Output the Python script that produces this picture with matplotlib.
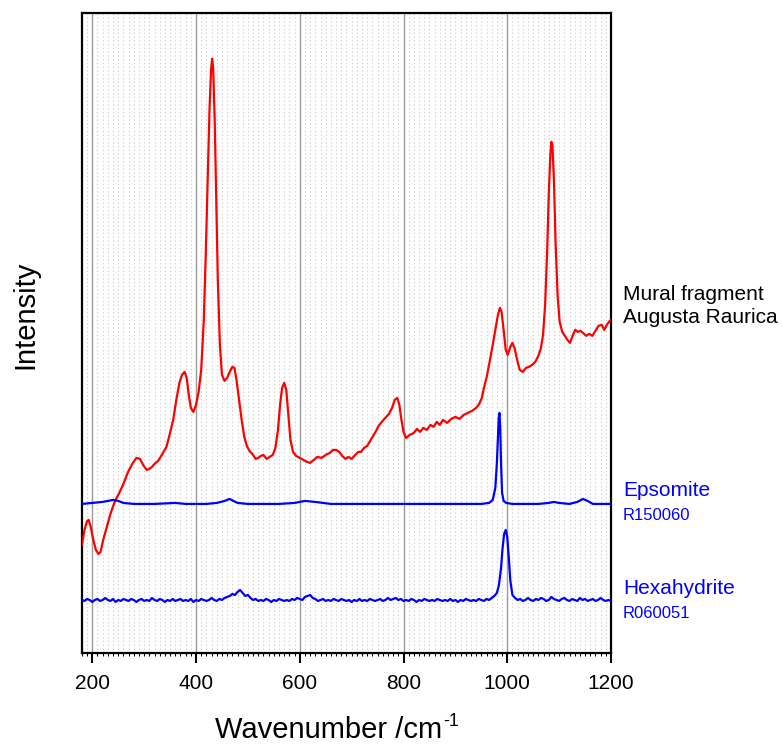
import matplotlib
matplotlib.use("Agg")
import matplotlib.pyplot as plt
import numpy as np

plt.rcParams['font.family'] = ['Liberation Sans', 'DejaVu Sans']

# Mural fragment, Augusta Raurica (Raman spectrum, arbitrary intensity units)
mural_wn = [180, 185, 190, 193, 197, 202, 207, 212, 216, 221, 228, 235, 241, 247, 253, 260,
            269, 277, 285, 292, 298, 305, 310, 315, 320, 327, 334, 343, 350, 356, 362, 368,
            373, 378, 382, 386, 390, 395, 400, 405, 410, 415, 419, 423, 426, 429, 431, 433,
            436, 439, 442, 446, 450, 455, 460, 465, 470, 474, 478, 483, 488, 493, 498, 503,
            510, 515, 520, 525, 530, 536, 542, 548, 553, 558, 562, 566, 570, 574, 578, 582,
            587, 593, 600, 607, 614, 620, 627, 634, 642, 650, 658, 664, 670, 676, 682, 688,
            694, 700, 707, 713, 718, 724, 730, 737, 745, 752, 758, 765, 772, 778, 783, 788,
            792, 796, 800, 805, 812, 820, 826, 832, 838, 845, 852, 858, 864, 870, 876, 884,
            892, 900, 908, 916, 924, 932, 940, 946, 951, 955, 960, 966, 972, 977, 982, 986,
            989, 993, 997, 1001, 1006, 1010, 1014, 1019, 1024, 1030, 1036, 1042, 1048, 1054,
            1060, 1065, 1069, 1073, 1077, 1080, 1083, 1085, 1087, 1090, 1093, 1097, 1101,
            1106, 1111, 1116, 1121, 1126, 1131, 1136, 1141, 1146, 1152, 1158, 1164, 1170,
            1176, 1182, 1187, 1192, 1196, 1200]
mural_int = [108, 123, 132, 133, 126, 113, 103, 99, 101, 113, 126, 139, 148, 155, 161, 169,
             181, 189, 195, 194, 188, 183, 184, 186, 189, 192, 198, 206, 220, 233, 253, 270,
             278, 281, 275, 258, 245, 241, 248, 261, 283, 333, 403, 483, 543, 583, 594, 585,
             533, 453, 373, 308, 278, 272, 275, 281, 286, 285, 273, 253, 233, 216, 207, 202,
             198, 194, 195, 197, 198, 194, 196, 198, 205, 223, 248, 265, 270, 263, 238, 213,
             201, 197, 195, 193, 191, 190, 193, 196, 195, 198, 200, 203, 203, 201, 197, 194,
             196, 194, 198, 201, 201, 205, 207, 213, 220, 227, 231, 235, 239, 245, 253, 255,
             248, 233, 221, 215, 218, 220, 224, 221, 225, 223, 228, 226, 231, 228, 233, 230,
             234, 236, 234, 238, 240, 242, 245, 249, 255, 265, 275, 291, 308, 323, 338, 345,
             341, 323, 303, 298, 306, 310, 305, 293, 283, 281, 285, 286, 288, 291,
             297, 305, 318, 348, 403, 458, 498, 511, 508, 473, 413, 358, 331,
             321, 317, 313, 310, 317, 323, 321, 322, 320, 317, 319, 317, 322,
             327, 328, 323, 328, 331, 333]

# Epsomite reference R150060
epsomite_wn = [180, 200, 220, 240, 250, 260, 280, 320, 360, 380, 420, 440, 455, 465, 472,
               480, 500, 560, 590, 610, 630, 660, 700, 800, 900, 950, 965, 972, 977, 980,
               982, 983.5, 985, 986.5, 988, 990, 993, 998, 1010, 1060, 1080, 1090, 1100,
               1120, 1135, 1146, 1155, 1165, 1200]
epsomite_int = [149, 150, 151, 153, 152, 150, 149, 149, 150, 149, 149, 150, 152, 154, 152,
                150, 149, 149, 150, 152, 151, 149, 149, 149, 149, 149, 150, 153, 165, 190,
                215, 235, 240, 225, 190, 160, 152, 150, 149, 149, 150, 151, 150,
                149, 151, 154, 152, 149, 149]

# Hexahydrite reference R060051: 5 cm-1 sampling, finer across the 997 band
hexa_wn = (list(range(180, 980, 5))
           + [980, 984, 988, 991, 994, 997, 1000, 1003, 1006, 1010]
           + list(range(1015, 1201, 5)))
hexa_int = [53, 52, 54, 53, 51, 53, 54, 52, 53, 55, 53, 52, 54, 51, 53, 52, 54, 53, 52, 54,
            53, 51, 53, 54, 52, 53, 52, 55, 53, 52, 54, 53, 51, 53, 52, 54, 52, 53, 54, 52,
            53, 52, 54, 51, 53, 52, 54, 53, 52, 53, 55, 53, 52, 54, 53, 55, 56, 57, 59, 58,
            61, 63, 60, 57, 58, 55, 53, 54, 52, 53, 52, 54, 53, 51, 53, 52, 54, 53, 52, 53,
            52, 54, 53, 55, 54, 53, 56, 57, 58, 55, 54, 52, 53, 54, 52, 53, 52, 54, 53, 52,
            54, 53, 52, 53, 51, 53, 52, 54, 52, 53, 52, 54, 53, 52, 53, 54, 52, 53, 55, 53,
            54, 55, 53, 54, 52, 53, 52, 54, 53, 51, 53, 52, 54, 53, 52, 53, 52, 54, 53, 52,
            53, 52, 54, 52, 53, 51, 53, 52, 54, 53, 52, 53, 52, 54, 53, 52, 54, 53, 55, 57,
            60, 68, 85, 105, 119, 123, 116, 95, 72, 58,
            55, 53, 54, 52, 53, 55, 53, 52, 54, 53, 55, 54, 52, 53, 56, 54, 53, 52, 54, 55,
            53, 52, 54, 53, 52, 55, 53, 54, 52, 53, 54, 52, 53, 55, 53, 52, 53, 52]

x_ticks = [200, 400, 600, 800, 1000, 1200]

fig = plt.figure(figsize=(7.83, 7.48), dpi=100)
ax = fig.add_axes([81.9 / 783, 1 - 653 / 748, (611 - 81.9) / 783, (653 - 12.7) / 748])

# fine dotted minor grid and solid major grid
for wn in range(180, 1201, 10):
    ax.axvline(wn, color='#cfcfcf', lw=0.8, ls=(0, (1.2, 2.2)), zorder=0)
for wn in x_ticks[:-1]:
    ax.axvline(wn, color='#9a9a9a', lw=1.0, zorder=1)

ax.plot(mural_wn, mural_int, color='#ff0000', lw=1.6, zorder=3)
ax.plot(epsomite_wn, epsomite_int, color='#0000ff', lw=1.6, zorder=3)
ax.plot(hexa_wn, hexa_int, color='#0000ff', lw=1.6, zorder=3)

ax.set_xlim(180, 1200)
ax.set_ylim(0, 640)
ax.set_xticks(x_ticks)
ax.set_xticks(np.arange(180, 1201, 10), minor=True)
ax.set_yticks([])
ax.tick_params(axis='x', which='major', direction='out', length=7, width=1.5,
               labelsize=15, pad=8)
ax.tick_params(axis='x', which='minor', direction='out', length=2.5, width=0.8)
for sp in ax.spines.values():
    sp.set_linewidth(1.6)
    sp.set_color('black')

fig.text(25 / 783, 1 - 315 / 748, 'Intensity', rotation=90, fontsize=21,
         ha='center', va='center')

# x-axis title with a raised "-1"
xlab = fig.text(215 / 783, 1 - 730 / 748, 'Wavenumber /cm', fontsize=21,
                ha='left', va='center')
renderer = fig.canvas.get_renderer()
bb = xlab.get_window_extent(renderer)
fig.text((bb.x1 + 1) / 783, (bb.y1 - 6) / 748, '-1', fontsize=13, ha='left', va='center')

fig.text(623 / 783, 1 - 295 / 748, 'Mural fragment', fontsize=15, ha='left', va='center')
fig.text(623 / 783, 1 - 318 / 748, 'Augusta Raurica', fontsize=15, ha='left', va='center')
fig.text(623 / 783, 1 - 491 / 748, 'Epsomite', fontsize=15, color='#0000ff',
         ha='left', va='center')
fig.text(623 / 783, 1 - 515 / 748, 'R150060', fontsize=12, color='#0000ff',
         ha='left', va='center')
fig.text(623 / 783, 1 - 588 / 748, 'Hexahydrite', fontsize=15, color='#0000ff',
         ha='left', va='center')
fig.text(623 / 783, 1 - 613 / 748, 'R060051', fontsize=12, color='#0000ff',
         ha='left', va='center')

fig.savefig('out.png', dpi=100)
